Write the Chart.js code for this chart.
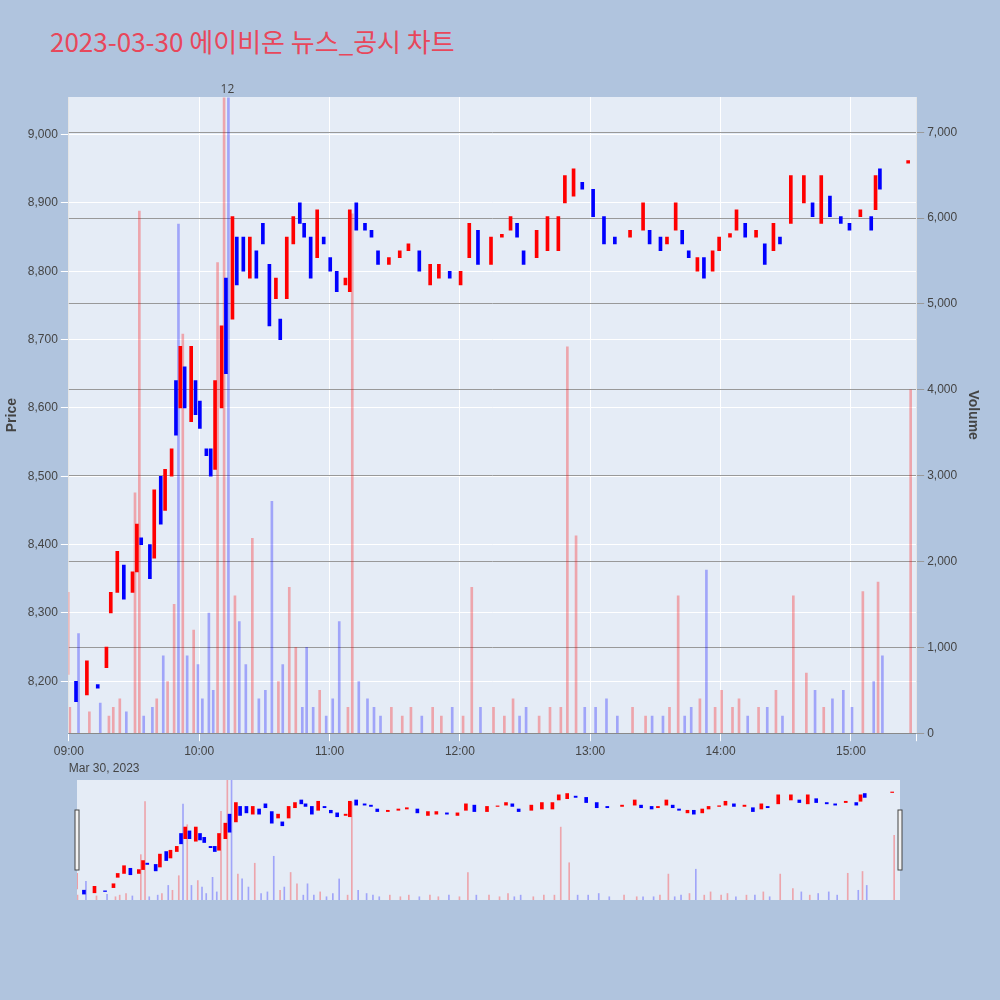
<!DOCTYPE html>
<html><head><meta charset="utf-8">
<script src="https://cdn.jsdelivr.net/npm/chart.js@4"></script>
<style>
body{margin:0;background:#b0c4de;font-family:"Open Sans","Noto Sans CJK KR",sans-serif;}
#title{position:absolute;left:50px;top:22px;font-size:26px;color:#e8475b;font-family:"Noto Sans CJK KR",sans-serif;}
#main{position:absolute;left:0;top:80px;}
#mini{position:absolute;left:0;top:775px;}
</style></head>
<body>
<div id="title">2023-03-30 에이비온 뉴스_공시 차트</div>
<canvas id="main" width="1000" height="700"></canvas>
<canvas id="mini" width="1000" height="130"></canvas>
<script>
// minutes after 09:00
var minutes = [0,4,9,14,18,20,23,26,30,32,34,38,40,43,45,48,50,52,54,57,59,61,64,66,68,71,73,76,78,81,84,87,90,93,96,98,101,104,107,109,112,115,118,121,124,128,130,133,137,140,143,148,153,157,162,167,171,176,181,185,189,195,200,204,207,210,216,221,226,229,233,237,242,247,252,259,265,268,273,276,280,283,286,290,293,297,300,305,308,312,317,321,325,328,333,339,343,347,351,356,360,365,370,372,374,387];
var opens  = [8210,8200,8180,8195,8220,8300,8330,8370,8330,8360,8410,8400,8380,8500,8450,8500,8640,8600,8660,8580,8640,8610,8540,8540,8510,8600,8790,8730,8850,8850,8790,8830,8870,8810,8760,8730,8760,8840,8900,8870,8850,8820,8850,8820,8800,8780,8770,8900,8870,8860,8830,8810,8820,8830,8830,8780,8790,8800,8780,8820,8860,8810,8850,8860,8870,8830,8820,8830,8830,8900,8910,8930,8920,8880,8850,8850,8860,8860,8850,8840,8860,8860,8830,8800,8820,8800,8830,8850,8860,8870,8850,8840,8830,8850,8870,8900,8900,8870,8910,8880,8870,8880,8880,8890,8950,8958];
var closes = [8330,8170,8230,8190,8250,8330,8390,8320,8360,8430,8400,8350,8480,8430,8510,8540,8560,8690,8600,8690,8590,8570,8530,8500,8640,8720,8650,8880,8780,8800,8850,8790,8840,8720,8790,8700,8850,8880,8870,8850,8790,8890,8840,8800,8770,8790,8890,8860,8860,8850,8810,8820,8830,8840,8800,8810,8810,8790,8800,8870,8810,8850,8852,8880,8850,8810,8860,8880,8880,8940,8950,8920,8880,8840,8840,8860,8900,8840,8830,8850,8900,8840,8820,8820,8790,8830,8850,8855,8890,8850,8860,8810,8870,8840,8940,8940,8880,8940,8880,8870,8860,8890,8860,8940,8920,8962];
var volumes = [300,1160,250,350,200,300,400,250,2800,6080,200,300,400,900,600,1500,5930,4650,900,1200,800,400,1400,500,5480,7400,7400,1600,1300,800,2270,400,500,2700,600,800,1700,1000,300,1000,300,500,200,400,1300,300,6050,600,400,300,200,300,200,300,200,300,200,300,200,1700,300,300,200,400,200,300,200,300,300,4500,2300,300,300,400,200,300,200,200,200,300,1600,200,300,400,1900,300,500,300,400,200,300,300,500,200,1600,700,500,300,400,500,300,1650,600,1760,900,4000];
var priceTicks = [8200,8300,8400,8500,8600,8700,8800,8900,9000];
var volumeTicks = [0,1000,2000,3000,4000,5000,6000,7000];
var timeLabels = ["09:00","10:00","11:00","12:00","13:00","14:00","15:00"];

var RED = "#ff0000", BLUE = "#0000ff";
var colors = opens.map(function(o, i){ return closes[i] >= o ? RED : BLUE; });
var volColors = opens.map(function(o, i){ return closes[i] >= o ? "rgba(255,0,0,0.3)" : "rgba(0,0,255,0.3)"; });
var candles = minutes.map(function(m, i){
    var lo = Math.min(opens[i], closes[i]), hi = Math.max(opens[i], closes[i]);
    if (hi - lo < 4) hi = lo + 4;
    return {x: m, y: [lo, hi]};
});
var vols = minutes.map(function(m, i){ return {x: m, y: volumes[i]}; });

var bgPlugin = {
    id: "bg",
    beforeDraw: function(chart){
        var a = chart.chartArea, c = chart.ctx;
        c.save();
        c.fillStyle = "#e5ecf6";
        c.fillRect(a.left, a.top, a.right - a.left, a.bottom - a.top);
        c.restore();
    }
};
var notePlugin = {
    id: "note",
    afterDraw: function(chart){
        var c = chart.ctx, x = chart.scales.x.getPixelForValue(73);
        c.save();
        c.fillStyle = "#444"; c.font = "12px 'Open Sans'"; c.textAlign = "center";
        c.fillText("12", x, chart.chartArea.top - 4);
        c.restore();
    }
};

function timeTick(v){ return v % 60 === 0 ? timeLabels[v / 60] : ""; }
function fmt(v){ return v.toLocaleString("en-US"); }

new Chart(document.getElementById("main"), {
    type: "bar",
    data: {
        datasets: [
            {type: "bar", label: "Volume", data: vols, yAxisID: "y2", backgroundColor: volColors, barThickness: 2, order: 2},
            {type: "bar", label: "Price", data: candles, yAxisID: "y", backgroundColor: colors, barThickness: 3, order: 1}
        ]
    },
    options: {
        responsive: false, animation: false,
        layout: {padding: {left: 0, right: 15, top: 17}},
        plugins: {legend: {display: false}, tooltip: {enabled: false}},
        scales: {
            x: {
                type: "linear", min: 0, max: 390, offset: false,
                grid: {color: "#ffffff", offset: false},
                ticks: {stepSize: 60, callback: timeTick, color: "#444", font: {size: 12}, maxRotation: 0},
                title: {display: true, text: "Mar 30, 2023", align: "start", color: "#444", font: {size: 12}, padding: {top: 0}}
            },
            y: {
                position: "left", min: 8124, max: 9055,
                afterBuildTicks: function(ax){ ax.ticks = priceTicks.map(function(v){ return {value: v}; }); },
                grid: {color: "#ffffff"},
                ticks: {color: "#444", font: {size: 12}, callback: fmt},
                title: {display: true, text: "Price", color: "#444", font: {size: 14, weight: "bold"}}
            },
            y2: {
                position: "right", min: 0, max: 7410,
                afterBuildTicks: function(ax){ ax.ticks = volumeTicks.map(function(v){ return {value: v}; }); },
                grid: {color: "#999999"},
                ticks: {color: "#444", font: {size: 12}, callback: fmt},
                title: {display: true, text: "Volume", color: "#444", font: {size: 14, weight: "bold"}}
            }
        }
    },
    plugins: [bgPlugin, notePlugin]
});

var handlePlugin = {
    id: "handles",
    afterDraw: function(chart){
        var a = chart.chartArea, c = chart.ctx;
        c.save();
        c.fillStyle = "#f2f2f2"; c.strokeStyle = "#444";
        [a.left - 2, a.right - 2].forEach(function(x){
            c.fillRect(x, a.top + 30, 4, 60); c.strokeRect(x, a.top + 30, 4, 60);
        });
        c.restore();
    }
};

new Chart(document.getElementById("mini"), {
    type: "bar",
    data: {
        datasets: [
            {data: vols, yAxisID: "y2", backgroundColor: volColors, barThickness: 1, order: 2},
            {data: candles, yAxisID: "y", backgroundColor: colors, barThickness: 3, order: 1}
        ]
    },
    options: {
        responsive: false, animation: false,
        layout: {padding: {left: 77, right: 100, top: 5, bottom: 5}},
        plugins: {legend: {display: false}, tooltip: {enabled: false}},
        scales: {
            x: {type: "linear", min: 0, max: 390, offset: false, display: false},
            y: {min: 8124, max: 9055, display: false},
            y2: {min: 0, max: 7410, display: false}
        }
    },
    plugins: [bgPlugin, handlePlugin]
});
</script>
</body></html>
